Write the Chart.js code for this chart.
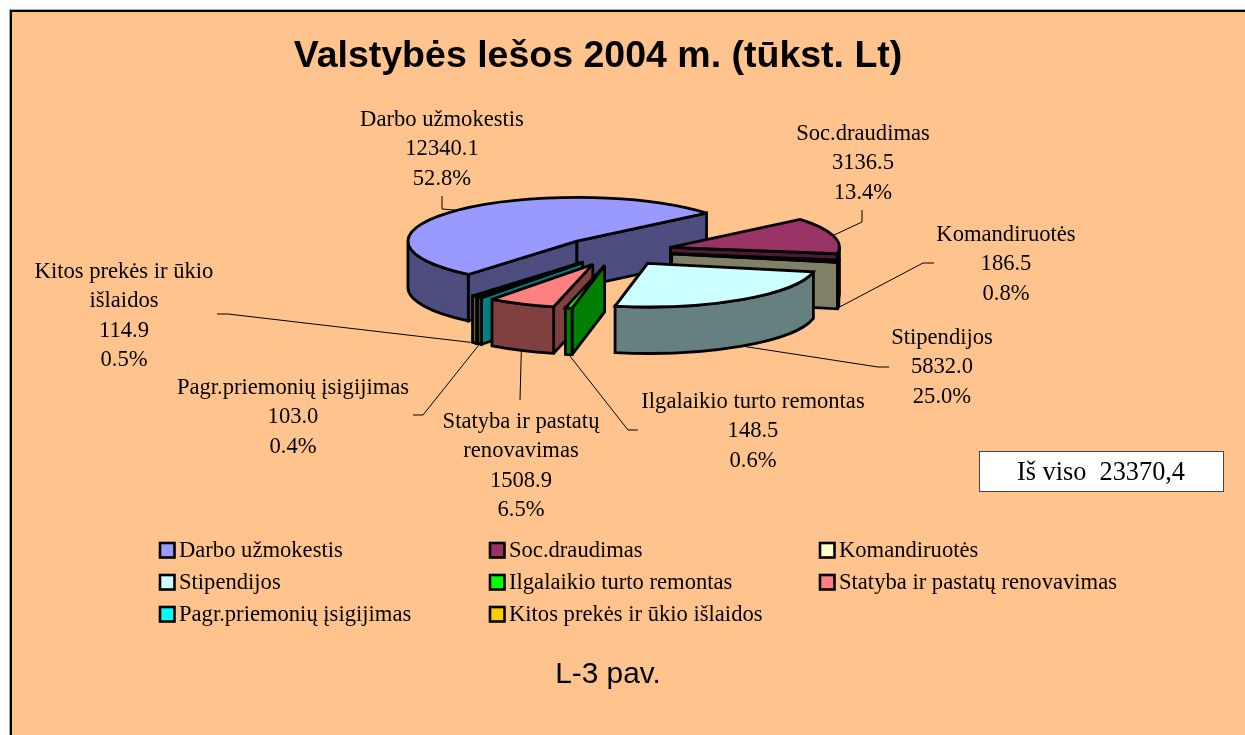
<html>
  <head>
    <title>Valstybės lešos 2004 m.</title>
    <meta charset="utf-8" />
  </head>
  <body>
    <div class="frame"></div>
    <canvas id="chart-funds" width="1245" height="735"></canvas>

    <style>
      html, body {
        margin: 0;
        width: 1245px;
        height: 735px;
        overflow: hidden;
        background: #fff;
      }

      .frame {
        position: absolute;
        left: 10px;
        top: 10px;
        width: 1400px;
        height: 900px;
        background: #ffc48e;
        border-left: 2.5px solid #000;
        border-top: 2.5px solid #000;
        box-shadow: -1px -1px 0 #aaa;
      }

      canvas {
        position: absolute;
        left: 0;
        top: 0;
      }
    </style>

    <script src="https://cdn.jsdelivr.net/npm/chart.js@4"></script>
    <script type="text/javascript">
      const categories = [
        'Darbo užmokestis',
        'Soc.draudimas',
        'Komandiruotės',
        'Stipendijos',
        'Ilgalaikio turto remontas',
        'Statyba ir pastatų renovavimas',
        'Pagr.priemonių įsigijimas',
        'Kitos prekės ir ūkio išlaidos',
      ];
      const values = [12340.1, 3136.5, 186.5, 5832.0, 148.5, 1508.9, 103.0, 114.9];
      const colors = ['#9999ff', '#993366', '#ffffcc', '#ccffff', '#00ff00', '#ff8080', '#00ffff', '#ffcc00'];
      const labelLines = [
        ['Darbo užmokestis'],
        ['Soc.draudimas'],
        ['Komandiruotės'],
        ['Stipendijos'],
        ['Ilgalaikio turto remontas'],
        ['Statyba ir pastatų', 'renovavimas'],
        ['Pagr.priemonių įsigijimas'],
        ['Kitos prekės ir ūkio', 'išlaidos'],
      ];

      // layout
      const labelCenters = [[442, 120], [863, 134], [1006, 235], [942, 338], [753, 402], [521, 422], [293, 388], [124, 272]];
      const leaderEnds = [
        [[442, 209], [442, 196]],
        [[862, 222], [862, 210]],
        [[923, 263], [934, 263]],
        [[878, 367], [889, 367]],
        [[628, 430], [638, 430]],
        [[520, 400]],
        [[423, 415], [413, 415]],
        [[228, 314], [217, 314]],
      ];
      const drawOrder = [0, 1, 2, 3, 7, 6, 5, 4];
      const pie = { x: 616.5, y: 251.3, radius: 169, squash: 0.258, explode: 56, depth: 46.5 };
      const serif = '"Liberation Serif", serif';

      const shade = (hex) =>
        '#' + [1, 3, 5].map((i) => Math.round(parseInt(hex.substr(i, 2), 16) / 2).toString(16).padStart(2, '0')).join('');

      function sliceApex(arc) {
        const mid = (arc.startAngle + arc.endAngle) / 2;
        return {
          x: pie.x + Math.cos(mid) * pie.explode,
          y: pie.y + Math.sin(mid) * pie.explode * pie.squash,
        };
      }

      function rimPoint(apex, angle, drop = 0) {
        return {
          x: apex.x + Math.cos(angle) * pie.radius,
          y: apex.y + Math.sin(angle) * pie.radius * pie.squash + drop,
        };
      }

      function paintFace(ctx, fill, trace) {
        ctx.beginPath();
        trace();
        ctx.closePath();
        ctx.fillStyle = fill;
        ctx.fill();
        ctx.stroke();
      }

      function drawWall(ctx, apex, angle, fill) {
        const rim = rimPoint(apex, angle);
        paintFace(ctx, fill, () => {
          ctx.moveTo(apex.x, apex.y);
          ctx.lineTo(rim.x, rim.y);
          ctx.lineTo(rim.x, rim.y + pie.depth);
          ctx.lineTo(apex.x, apex.y + pie.depth);
        });
      }

      function drawRim(ctx, apex, start, end, fill) {
        // only the half of the ellipse facing the viewer
        for (let n = 0; n < 3; n += 1) {
          const from = Math.max(start, n * 2 * Math.PI);
          const to = Math.min(end, n * 2 * Math.PI + Math.PI);
          if (from >= to) continue;
          const a = rimPoint(apex, to);
          paintFace(ctx, fill, () => {
            ctx.ellipse(apex.x, apex.y, pie.radius, pie.radius * pie.squash, 0, from, to);
            ctx.lineTo(a.x, a.y + pie.depth);
            ctx.ellipse(apex.x, apex.y + pie.depth, pie.radius, pie.radius * pie.squash, 0, to, from, true);
          });
        }
      }

      function drawSlice(ctx, arc, index) {
        const apex = sliceApex(arc);
        const side = shade(colors[index]);
        const { startAngle, endAngle } = arc;

        ctx.strokeStyle = '#000';
        ctx.lineWidth = 2.8;
        ctx.lineJoin = 'miter';
        ctx.miterLimit = 2.5;
        if (Math.cos(startAngle) < 0) drawWall(ctx, apex, startAngle, side);
        if (Math.cos(endAngle) > 0) drawWall(ctx, apex, endAngle, side);
        drawRim(ctx, apex, startAngle, endAngle, side);

        // top face comes from the arc element itself, flattened
        ctx.save();
        ctx.translate(apex.x, apex.y);
        ctx.scale(1, pie.squash);
        ctx.translate(-arc.x, -arc.y);
        arc.draw(ctx);
        ctx.restore();

        ctx.beginPath();
        ctx.moveTo(apex.x, apex.y);
        ctx.ellipse(apex.x, apex.y, pie.radius, pie.radius * pie.squash, 0, startAngle, endAngle);
        ctx.closePath();
        ctx.stroke();
      }

      function drawLeaders(ctx, arcs) {
        ctx.strokeStyle = '#000';
        ctx.lineWidth = 1;
        arcs.forEach((arc, i) => {
          const mid = (arc.startAngle + arc.endAngle) / 2;
          const start = rimPoint(sliceApex(arc), mid, Math.sin(mid) > 0 ? pie.depth : 0);
          ctx.beginPath();
          ctx.moveTo(start.x, start.y);
          leaderEnds[i].forEach(([x, y]) => ctx.lineTo(x, y));
          ctx.stroke();
        });
      }

      function drawLabels(ctx) {
        const total = values.reduce((a, b) => a + b, 0);
        ctx.fillStyle = '#000';
        ctx.font = `22.6px ${serif}`;
        ctx.textAlign = 'center';
        ctx.textBaseline = 'middle';
        categories.forEach((_, i) => {
          const lines = [...labelLines[i], values[i].toFixed(1), `${((values[i] / total) * 100).toFixed(1)}%`];
          const [x, y] = labelCenters[i];
          lines.forEach((line, j) => ctx.fillText(line, x, y + j * 29.5));
        });
      }

      function drawLegend(ctx) {
        ctx.font = `22.6px ${serif}`;
        ctx.textAlign = 'left';
        ctx.textBaseline = 'middle';
        categories.forEach((name, i) => {
          const x = 160 + (i % 3) * 330;
          const y = 550 + Math.floor(i / 3) * 32;
          ctx.fillStyle = colors[i];
          ctx.fillRect(x, y - 7, 14.5, 14.5);
          ctx.strokeStyle = '#000';
          ctx.lineWidth = 2.6;
          ctx.strokeRect(x, y - 7, 14.5, 14.5);
          ctx.fillStyle = '#000';
          ctx.fillText(name, x + 19, y + 1);
        });
      }

      function drawNotes(ctx) {
        ctx.fillStyle = '#fff';
        ctx.fillRect(979.5, 451.5, 244, 40);
        ctx.strokeStyle = '#444';
        ctx.lineWidth = 1;
        ctx.strokeRect(979.5, 451.5, 244, 40);
        ctx.fillStyle = '#000';
        ctx.textAlign = 'center';
        ctx.textBaseline = 'middle';
        ctx.font = `26.3px ${serif}`;
        ctx.fillText('Iš viso  23370,4', 1101, 473);
        ctx.font = '29.8px "Liberation Sans", sans-serif';
        ctx.fillText('L-3 pav.', 608, 675);
      }

      const pie3d = {
        id: 'pie3d',
        beforeDatasetDraw(chart, args) {
          const arcs = args.meta.data;
          drawOrder.forEach((i) => drawSlice(chart.ctx, arcs[i], i));
          return false;
        },
        afterDraw(chart) {
          const { ctx } = chart;
          ctx.save();
          drawLeaders(ctx, chart.getDatasetMeta(0).data);
          drawLabels(ctx);
          drawLegend(ctx);
          drawNotes(ctx);
          ctx.restore();
        },
      };

      new Chart(document.getElementById('chart-funds'), {
        type: 'pie',
        data: {
          labels: categories,
          datasets: [
            {
              data: values,
              backgroundColor: colors,
              borderWidth: 0,
            },
          ],
        },
        options: {
          responsive: false,
          animation: false,
          rotation: 220,
          radius: pie.radius,
          layout: { padding: { right: 49 } },
          plugins: {
            legend: { display: false },
            tooltip: { enabled: false },
            title: {
              display: true,
              text: 'Valstybės lešos 2004 m. (tūkst. Lt)',
              color: '#000',
              font: { family: '"Liberation Sans", sans-serif', size: 37.5, weight: 'bold' },
              padding: { top: 34, bottom: 0 },
            },
          },
        },
        plugins: [pie3d],
      });
    </script>
  </body>
</html>
